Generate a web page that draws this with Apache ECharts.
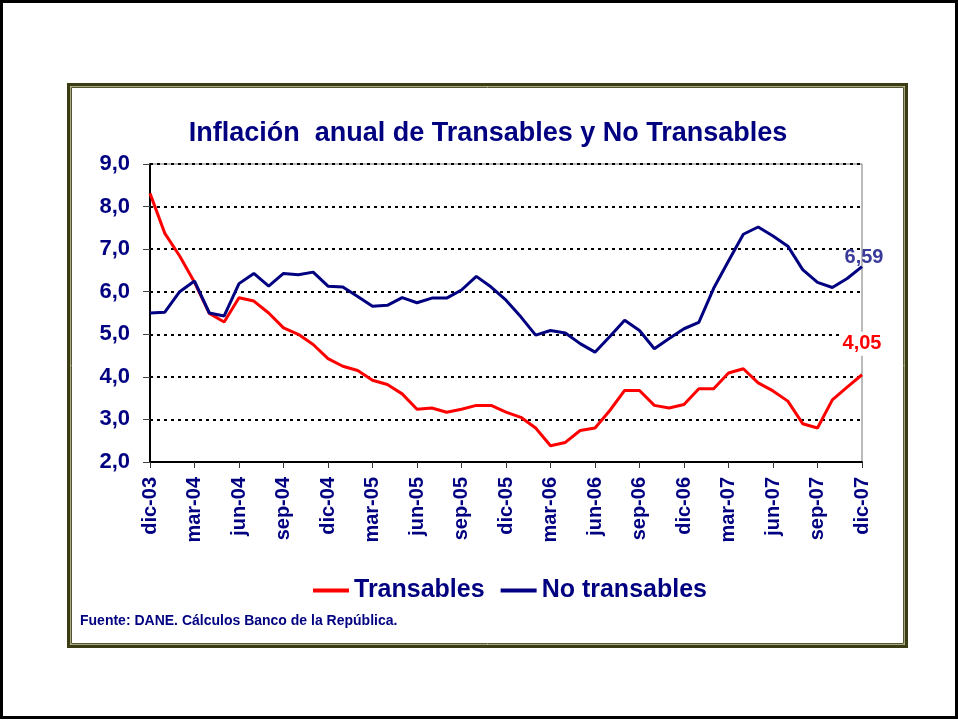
<html>
<head>
<meta charset="utf-8">
<title>Inflación anual de Transables y No Transables</title>
<script src="https://cdn.jsdelivr.net/npm/echarts@6/dist/echarts.min.js"></script>
<style>
  body { margin: 0; background: #fff; }
  #main { width: 958px; height: 720px; }
</style>
</head>
<body>
<div id="main"></div>
<script>
// meses dic-03 .. dic-07
var meses = ['ene','feb','mar','abr','may','jun','jul','ago','sep','oct','nov','dic'];
var categorias = ['dic-03'];
for (var a = 4; a <= 7; a++) {
  for (var m = 0; m < 12; m++) categorias.push(meses[m] + '-0' + a);
}

var transables = [8.31, 7.37, 6.84, 6.22, 5.49, 5.29, 5.86, 5.78, 5.50, 5.15, 5.00, 4.76, 4.43,
  4.25, 4.15, 3.92, 3.82, 3.60, 3.24, 3.27, 3.17, 3.24, 3.33, 3.33, 3.17, 3.05,
  2.80, 2.38, 2.46, 2.74, 2.80, 3.21, 3.68, 3.68, 3.33, 3.27, 3.35, 3.72, 3.72,
  4.09, 4.19, 3.86, 3.67, 3.43, 2.90, 2.80, 3.46, 3.76, 4.05];

var noTransables = [5.50, 5.52, 6.00, 6.25, 5.50, 5.43, 6.19, 6.43, 6.13, 6.43, 6.40, 6.46, 6.13,
  6.11, 5.89, 5.66, 5.68, 5.86, 5.74, 5.85, 5.85, 6.04, 6.36, 6.11, 5.80, 5.41,
  4.98, 5.09, 5.03, 4.78, 4.58, 4.95, 5.33, 5.09, 4.66, 4.90, 5.13, 5.28, 6.08,
  6.72, 7.35, 7.52, 7.31, 7.07, 6.52, 6.22, 6.10, 6.31, 6.59];

var azul = '#000080';
var fuente = 'Liberation Sans';
var coma = function (v, d) { return v.toFixed(d).replace('.', ','); };

// etiqueta solo en el ultimo dato
function conEtiqueta(arr, lbl) {
  return arr.map(function (v, i) {
    if (i < arr.length - 1) return v;
    return { value: v, label: lbl };
  });
}

var myChart = echarts.init(document.getElementById('main'));

var option = {
  backgroundColor: '#fff',
  animation: false,
  title: {
    text: 'Inflación  anual de Transables y No Transables',
    left: 483, top: 115, textAlign: 'center',
    textStyle: { color: azul, fontFamily: fuente, fontWeight: 'bold', fontSize: 27 }
  },
  grid: {
    left: 150, right: 96, top: 164, bottom: 258,
    show: true, borderColor: '#777', borderWidth: 1, backgroundColor: '#fff'
  },
  legend: {
    top: 573, left: 308,
    icon: 'rect', itemWidth: 36, itemHeight: 4, itemGap: 16,
    data: ['Transables', 'No transables'],
    textStyle: { color: azul, fontFamily: fuente, fontWeight: 'bold', fontSize: 25 }
  },
  xAxis: {
    type: 'category',
    data: categorias,
    boundaryGap: false,
    axisLine: { lineStyle: { color: '#000', width: 2 } },
    axisTick: { interval: 2, length: 6, lineStyle: { color: '#333' } },
    axisLabel: {
      interval: 2, rotate: 90, margin: 15,
      color: azul, fontFamily: fuente, fontWeight: 'bold', fontSize: 20
    },
    splitLine: { show: false }
  },
  yAxis: {
    type: 'value',
    min: 2, max: 9, interval: 1,
    axisLine: { show: true, lineStyle: { color: '#000', width: 2 } },
    axisTick: { show: true, length: 7, lineStyle: { color: '#444' } },
    axisLabel: {
      margin: 20,
      color: azul, fontFamily: fuente, fontWeight: 'bold', fontSize: 22,
      formatter: function (v) { return coma(v, 1); }
    },
    splitLine: { lineStyle: { color: '#000', width: 2, type: [3, 4] } }
  },
  series: [
    {
      name: 'Transables', type: 'line', showSymbol: true, symbol: 'circle', symbolSize: 0,
      color: '#ff0000', lineStyle: { width: 3, color: '#ff0000' }, z: 3,
      data: conEtiqueta(transables, {
        show: true, position: 'top', offset: [0, -14],
        backgroundColor: '#fff', padding: [2, 3],
        color: '#ff0000', fontFamily: fuente, fontWeight: 'bold', fontSize: 20,
        formatter: function (p) { return coma(p.value, 2); }
      })
    },
    {
      name: 'No transables', type: 'line', showSymbol: true, symbol: 'circle', symbolSize: 0,
      color: azul, lineStyle: { width: 3, color: azul }, z: 4,
      data: conEtiqueta(noTransables, {
        show: true, position: 'top', offset: [2, 6],
        color: '#3a3a9a', fontFamily: fuente, fontWeight: 'bold', fontSize: 20,
        formatter: function (p) { return coma(p.value, 2); }
      })
    }
  ],
  graphic: [
    // borde de la pagina
    { type: 'rect', z: -10, silent: true,
      shape: { x: 1.5, y: 1.5, width: 955, height: 716 },
      style: { fill: 'none', stroke: '#000', lineWidth: 3 } },
    // marco del grafico
    { type: 'rect', z: -5, silent: true,
      shape: { x: 68.5, y: 84.5, width: 838, height: 562 },
      style: { fill: 'none', stroke: '#3c3c14', lineWidth: 3 } },
    { type: 'rect', z: -5, silent: true,
      shape: { x: 70.5, y: 86.5, width: 834, height: 558 },
      style: { fill: 'none', stroke: '#a8a880', lineWidth: 1 } },
    { type: 'rect', z: -5, silent: true,
      shape: { x: 71.5, y: 87.5, width: 832, height: 556 },
      style: { fill: 'none', stroke: '#55552f', lineWidth: 1 } },
    { type: 'text', left: 80, top: 614,
      style: { text: 'Fuente: DANE. Cálculos Banco de la República.', fill: azul,
        font: 'bold 14px "Liberation Sans"' } }
  ]
};

myChart.setOption(option);
</script>
</body>
</html>
